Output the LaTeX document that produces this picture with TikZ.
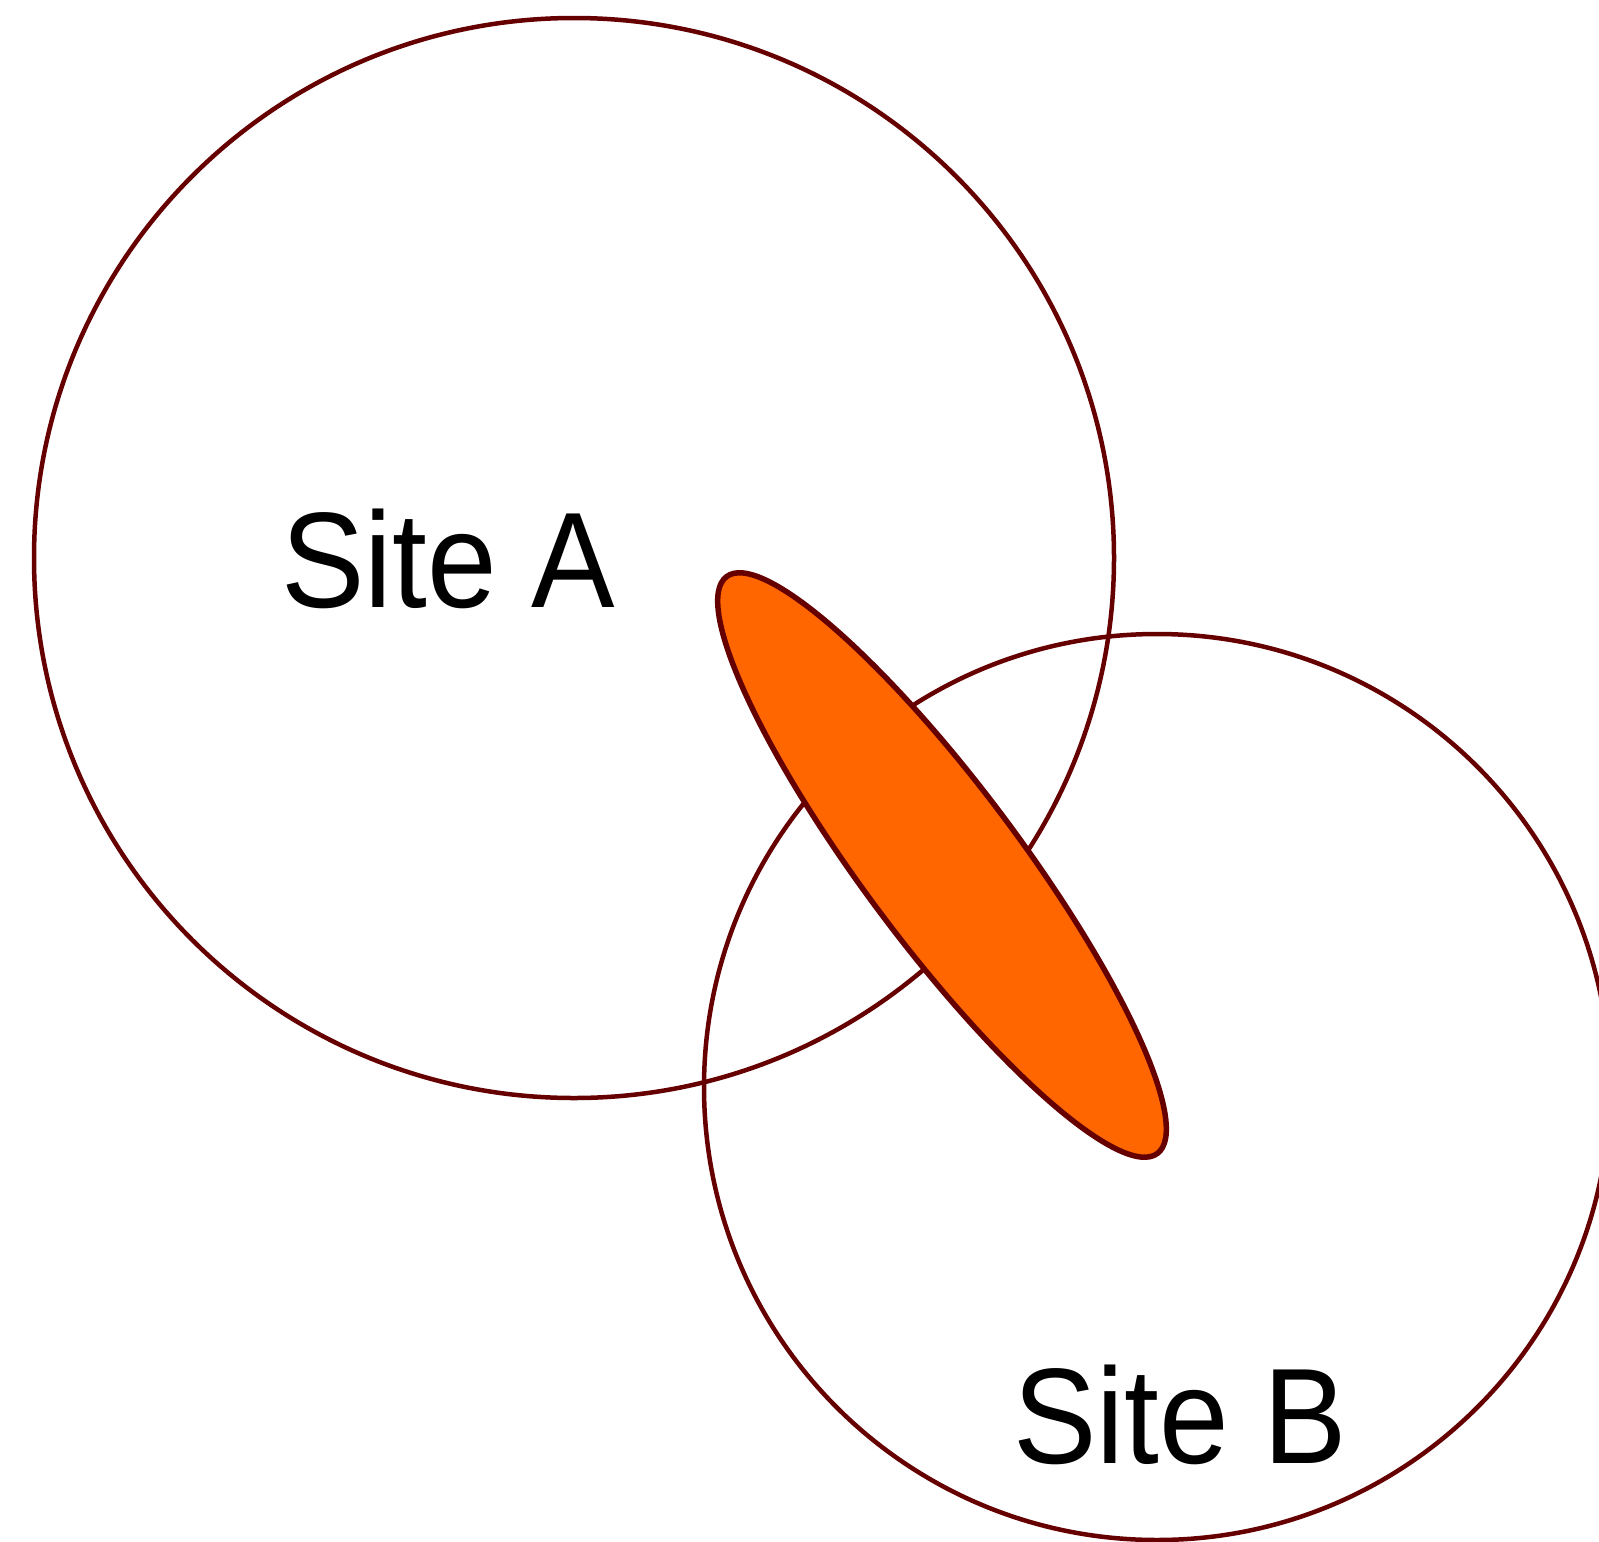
\documentclass[tikz,border=0pt]{standalone}
\usepackage{fontspec}
\setmainfont{Liberation Sans}
\definecolor{rim}{HTML}{660000}
\definecolor{blob}{HTML}{FF6600}
\begin{document}
\begin{tikzpicture}[x=1pt,y=-1pt,
  sitecircle/.style={draw=rim,line width=4.5pt},
  overlap/.style={draw=rim,fill=blob,line width=5.5pt},
  sitelabel/.style={font=\fontsize{136}{160}\selectfont,inner sep=0pt,anchor=base west,xscale=0.92}]
\useasboundingbox[fill=white] (0,0) rectangle (1599,1542);
\draw[sitecircle] (574,558) circle[radius=540];
\draw[sitecircle] (1157,1087) circle[radius=453];
\draw[overlap] (942,865) ellipse[x radius=360,y radius=78,rotate=-53.25];
\node[sitelabel] (a) at (281,607) {Site A};
\node[sitelabel] (b) at (1013,1463) {Site B};
\end{tikzpicture}
\end{document}
